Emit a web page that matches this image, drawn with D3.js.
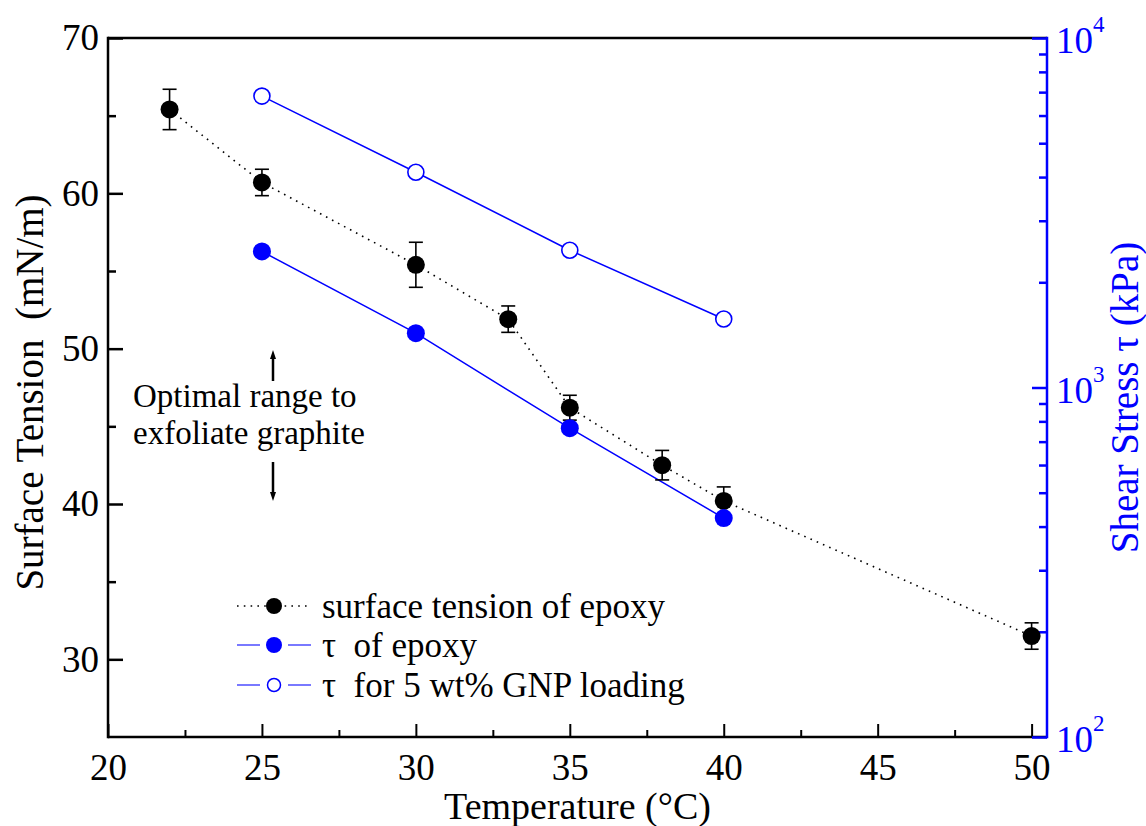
<!DOCTYPE html>
<html><head><meta charset="utf-8">
<script src="https://cdn.jsdelivr.net/npm/d3@7"></script>
<style>
body{margin:0;background:#fff}
text{font-family:"Liberation Serif","Times New Roman",serif}
</style>
</head><body>
<svg id="c" width="1146" height="826"></svg>
<script>
// ---- data ----
const temps = [22, 25, 30, 33, 35, 38, 40, 50];
const surfaceTension = [65.4, 60.7, 55.4, 51.9, 46.2, 42.5, 40.2, 31.5];
const surfaceErr = [1.3, 0.85, 1.45, 0.85, 0.8, 0.95, 0.9, 0.85];
const tauTemps = [25, 30, 35, 40];
const tauEpoxy = [2450, 1430, 765, 423];
const tauGNP = [6820, 4130, 2470, 1570];
const xTicks = [20, 25, 30, 35, 40, 45, 50];
const xMinor = [22.5, 27.5, 32.5, 37.5, 42.5, 47.5];
const yTicks = [30, 40, 50, 60, 70];
const yMinor = [35, 45, 55, 65];
const rTicks = [100, 1000, 10000];
const rTickExp = ["2", "3", "4"];
const rMinor = [200,300,400,500,600,700,800,900,2000,3000,4000,5000,6000,7000,8000,9000];
const legendLabels = ["surface tension of epoxy", "\u03c4  of epoxy", "\u03c4  for 5 wt% GNP loading"];
const annotation = ["Optimal range to", "exfoliate graphite"];

const BLUE = "#0000ff";
const L = 108, R = 1047, T = 38, B = 737;
const svg = d3.select("#c");
const x = d3.scaleLinear([20, 50.5], [L, R]);
const y = d3.scaleLinear([25, 70], [B, T]);
const yR = d3.scaleLog([100, 10000], [B, T]);

// ---- axes ----
const fs = 37;
const gx = svg.append("g").attr("transform", `translate(0,${B})`)
  .call(d3.axisBottom(x).tickValues(xTicks).tickSize(-13).tickPadding(17).tickFormat(d3.format("d")));
gx.select(".domain").remove();
gx.selectAll("text").attr("font-size", fs).attr("fill", "#000");
gx.selectAll("line").attr("stroke", "#000").attr("stroke-width", 2);
const gxm = svg.append("g").attr("transform", `translate(0,${B})`)
  .call(d3.axisBottom(x).tickValues(xMinor).tickSize(-7).tickFormat(""));
gxm.select(".domain").remove();
gxm.selectAll("line").attr("stroke", "#000").attr("stroke-width", 2);

const gy = svg.append("g").attr("transform", `translate(${L},0)`)
  .call(d3.axisLeft(y).tickValues(yTicks).tickSize(-15).tickPadding(9).tickFormat(d3.format("d")));
gy.select(".domain").remove();
gy.selectAll("text").attr("font-size", fs).attr("fill", "#000");
gy.selectAll("line").attr("stroke", "#000").attr("stroke-width", 2.5);
const gym = svg.append("g").attr("transform", `translate(${L},0)`)
  .call(d3.axisLeft(y).tickValues(yMinor).tickSize(-8).tickFormat(""));
gym.select(".domain").remove();
gym.selectAll("line").attr("stroke", "#000").attr("stroke-width", 2.5);

// frame
svg.append("line").attr("x1", L).attr("x2", R).attr("y1", T).attr("y2", T).attr("stroke", "#000").attr("stroke-width", 2.5);
svg.append("line").attr("x1", L).attr("x2", R).attr("y1", B).attr("y2", B).attr("stroke", "#000").attr("stroke-width", 2.5);
svg.append("line").attr("x1", L).attr("x2", L).attr("y1", T - 1.25).attr("y2", B + 1.25).attr("stroke", "#000").attr("stroke-width", 2.5);

// right log axis
const gr = svg.append("g").attr("transform", `translate(${R},0)`)
  .call(d3.axisRight(yR).tickValues(rTicks).tickSize(-15).tickFormat(""));
gr.select(".domain").remove();
gr.selectAll("line").attr("stroke", BLUE).attr("stroke-width", 2.5);
const grm = svg.append("g").attr("transform", `translate(${R},0)`)
  .call(d3.axisRight(yR).tickValues(rMinor).tickSize(-8).tickFormat(""));
grm.select(".domain").remove();
grm.selectAll("line").attr("stroke", BLUE).attr("stroke-width", 2.5);
svg.append("line").attr("x1", R).attr("x2", R).attr("y1", T - 1.25).attr("y2", B + 1.25).attr("stroke", BLUE).attr("stroke-width", 2.5);

rTicks.forEach((v, i) => {
  const t = svg.append("text").attr("x", R + 9).attr("y", yR(v) + 15).attr("fill", BLUE).attr("font-size", fs);
  t.append("tspan").text("10");
  t.append("tspan").attr("font-size", 23).attr("dy", -21).text(rTickExp[i]);
});

// axis titles
svg.append("text").attr("x", (L + R) / 2).attr("y", 819).attr("text-anchor", "middle")
  .attr("font-size", 38).text("Temperature (\u00b0C)");
svg.append("text").attr("transform", `translate(43,${(T + B) / 2 + 5}) rotate(-90)`).attr("text-anchor", "middle")
  .attr("font-size", 39).attr("xml:space", "preserve").style("white-space", "pre").text("Surface Tension  (mN/m)");
svg.append("text").attr("transform", `translate(1138,${(T + B) / 2 + 10}) rotate(-90)`).attr("text-anchor", "middle")
  .attr("font-size", 39).attr("fill", BLUE).text("Shear Stress \u03c4 (kPa)");

// ---- series ----
const lineST = d3.line().x((d, i) => x(temps[i])).y(d => y(d));
svg.append("path").attr("d", lineST(surfaceTension)).attr("fill", "none").attr("stroke", "#000")
  .attr("stroke-width", 1.6).attr("stroke-dasharray", "1.6 5.2");

const lineR = d3.line().x((d, i) => x(tauTemps[i])).y(d => yR(d));
svg.append("path").attr("d", lineR(tauEpoxy)).attr("fill", "none").attr("stroke", BLUE).attr("stroke-width", 1.5);
svg.append("path").attr("d", lineR(tauGNP)).attr("fill", "none").attr("stroke", BLUE).attr("stroke-width", 1.5);

// error bars
const eb = svg.append("g").attr("stroke", "#000").attr("stroke-width", 1.6);
surfaceTension.forEach((v, i) => {
  const cx = x(temps[i]), y1 = y(v + surfaceErr[i]), y2 = y(v - surfaceErr[i]);
  eb.append("line").attr("x1", cx).attr("x2", cx).attr("y1", y1).attr("y2", y2);
  eb.append("line").attr("x1", cx - 7).attr("x2", cx + 7).attr("y1", y1).attr("y2", y1);
  eb.append("line").attr("x1", cx - 7).attr("x2", cx + 7).attr("y1", y2).attr("y2", y2);
});

svg.append("g").selectAll("circle").data(surfaceTension).join("circle")
  .attr("cx", (d, i) => x(temps[i])).attr("cy", d => y(d)).attr("r", 9).attr("fill", "#000");
svg.append("g").selectAll("circle").data(tauEpoxy).join("circle")
  .attr("cx", (d, i) => x(tauTemps[i])).attr("cy", d => yR(d)).attr("r", 9).attr("fill", BLUE);
svg.append("g").selectAll("circle").data(tauGNP).join("circle")
  .attr("cx", (d, i) => x(tauTemps[i])).attr("cy", d => yR(d)).attr("r", 8).attr("fill", "#fff")
  .attr("stroke", BLUE).attr("stroke-width", 1.6);

// ---- legend ----
const rows = [606, 645, 685];
const lg = svg.append("g");
lg.append("line").attr("x1", 237).attr("x2", 311).attr("y1", rows[0]).attr("y2", rows[0])
  .attr("stroke", "#000").attr("stroke-width", 1.6).attr("stroke-dasharray", "1.6 5.2");
lg.append("circle").attr("cx", 274).attr("cy", rows[0]).attr("r", 8).attr("fill", "#000");
[1, 2].forEach(k => {
  lg.append("line").attr("x1", 237).attr("x2", 260).attr("y1", rows[k]).attr("y2", rows[k]).attr("stroke", "#4d4dff").attr("stroke-width", 1.5);
  lg.append("line").attr("x1", 288).attr("x2", 311).attr("y1", rows[k]).attr("y2", rows[k]).attr("stroke", "#4d4dff").attr("stroke-width", 1.5);
});
lg.append("circle").attr("cx", 274).attr("cy", rows[1]).attr("r", 8).attr("fill", BLUE);
lg.append("circle").attr("cx", 274).attr("cy", rows[2]).attr("r", 6.5).attr("fill", "#fff").attr("stroke", BLUE).attr("stroke-width", 1.5);
legendLabels.forEach((s, k) => {
  lg.append("text").attr("x", 322).attr("y", rows[k] + 12).attr("font-size", 35)
    .attr("xml:space", "preserve").style("white-space", "pre").text(s);
});

// ---- annotation ----
const ax = 273;
const ag = svg.append("g");
ag.append("line").attr("x1", ax).attr("x2", ax).attr("y1", 381).attr("y2", 358).attr("stroke", "#000").attr("stroke-width", 2.5);
ag.append("path").attr("d", `M${ax - 3},${359} L${ax},${350} L${ax + 3},${359} Z`).attr("fill", "#000");
ag.append("line").attr("x1", ax).attr("x2", ax).attr("y1", 462).attr("y2", 493).attr("stroke", "#000").attr("stroke-width", 2.5);
ag.append("path").attr("d", `M${ax - 3},${492} L${ax},${501} L${ax + 3},${492} Z`).attr("fill", "#000");
annotation.forEach((s, k) => {
  ag.append("text").attr("x", 133).attr("y", 407 + k * 37).attr("font-size", 33).text(s);
});
</script>
</body></html>
